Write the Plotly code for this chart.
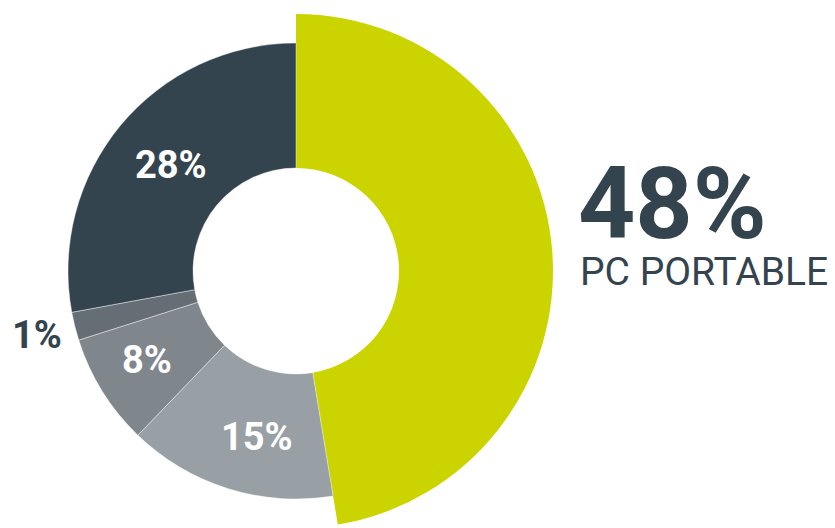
import plotly.graph_objects as go

# data (slice sizes as drawn; labels as printed)
categories = ["PC portable", "Cat B", "Cat C", "Cat D", "Cat E"]
values = [47.4, 14.8, 7.9, 2.0, 27.9]
label_text = ["48%", "15%", "8%", "1%", "28%"]
headline_label = "PC PORTABLE"
colors = ["#CCD400", "#98A0A5", "#80878C", "#656E74", "#34444F"]

W, H = 835, 528
cx, cy = 296, 271          # pie centre in pixels (from top)
R_big, R_small, R_hole = 257, 228, 103

def dom(r):
    cyb = H - cy
    return dict(x=[(cx - r) / W, (cx + r) / W], y=[max(0, (cyb - r) / H), min(1, (cyb + r) / H)])

fig = go.Figure()
# highlighted (larger) slice
fig.add_trace(go.Pie(
    labels=categories, values=values, sort=False, direction="clockwise", rotation=0,
    hole=R_hole / R_big, domain=dom(R_big),
    marker=dict(colors=[colors[0]] + ["rgba(0,0,0,0)"] * (len(values) - 1), line=dict(width=0)),
    textinfo="none", hoverinfo="label", showlegend=False,
))
# other slices
fig.add_trace(go.Pie(
    labels=categories, values=values, sort=False, direction="clockwise", rotation=0,
    hole=R_hole / R_small, domain=dom(R_small),
    marker=dict(colors=["rgba(0,0,0,0)"] + colors[1:],
                line=dict(width=[0, 0.7, 0.7, 0.7, 0.7], color="rgba(255,255,255,0.6)")),
    textinfo="none", hoverinfo="label", showlegend=False,
))

# label positions (pixels) for slices 1..4
label_pos = {1: (257, 437), 2: (147, 360), 3: (37, 335), 4: (171, 165)}
for i, (px, py) in label_pos.items():
    col = "#34444F" if i == 3 else "white"
    fig.add_annotation(x=px / W, y=1 - py / H, xref="paper", yref="paper",
                       text=label_text[i], showarrow=False, xanchor="center", yanchor="middle",
                       font=dict(family="Roboto", size=38, color=col, weight="bold"))

fig.add_annotation(x=576 / W, y=1 - 203 / H, xref="paper", yref="paper", text=label_text[0],
                   showarrow=False, xanchor="left", yanchor="middle",
                   font=dict(family="Roboto", size=100, color="#34444F", weight="bold"))
fig.add_annotation(x=578 / W, y=1 - 272 / H, xref="paper", yref="paper", text=headline_label,
                   showarrow=False, xanchor="left", yanchor="middle",
                   font=dict(family="Roboto", size=39, color="#34444F"))

fig.update_layout(width=W, height=H, margin=dict(l=0, r=0, t=0, b=0),
                  paper_bgcolor="white", plot_bgcolor="white", showlegend=False)
fig.write_html("out.html")
